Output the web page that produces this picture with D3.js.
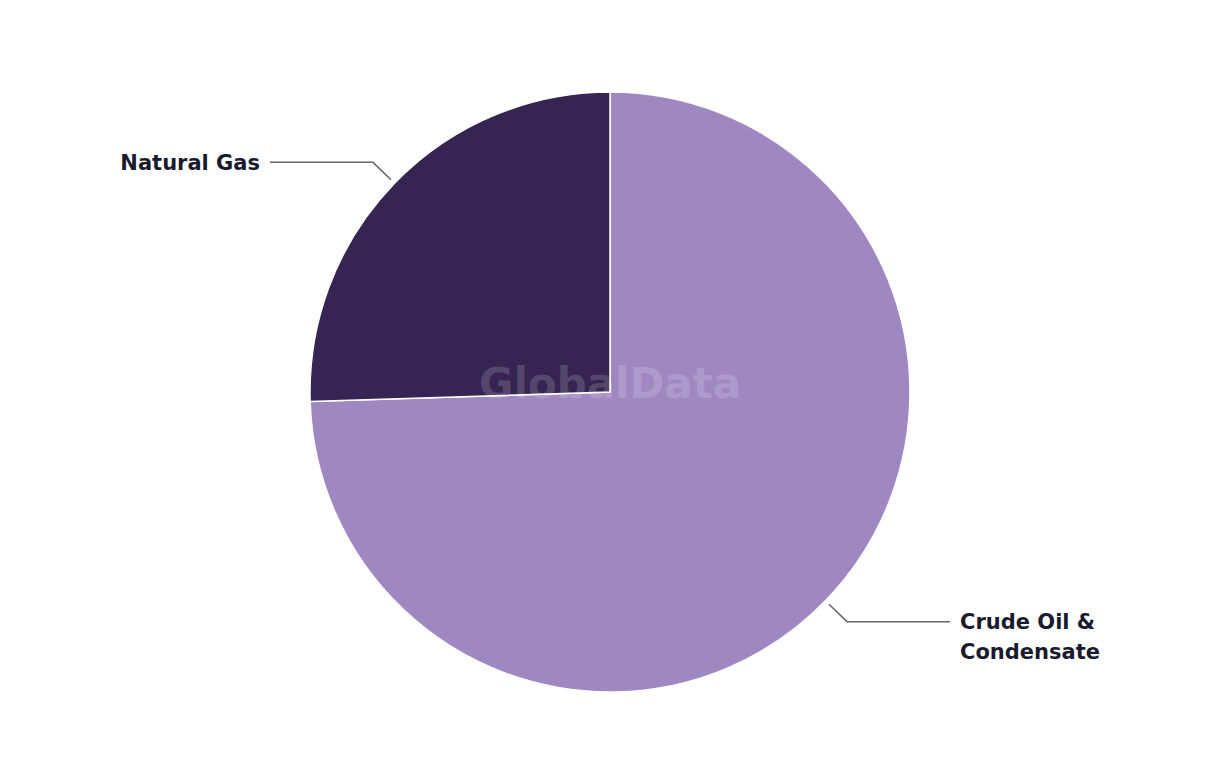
<!DOCTYPE html>
<html>
<head>
<meta charset="utf-8">
<script src="https://cdn.jsdelivr.net/npm/d3@7"></script>
<style>
  body { margin: 0; background: #fff; }
</style>
</head>
<body>
<div id="chart"></div>
<script>
// data (share of total, %)
var categories = ["Crude Oil & Condensate", "Natural Gas"];
var values = [74.5, 25.5];
var colors = ["#9f88c1", "#362453"];
var labelLines = [["Crude Oil &", "Condensate"], ["Natural Gas"]];

var width = 1220, height = 764;
var cx = 610, cy = 392, radius = 300;

var data = categories.map(function(c, i) { return { name: c, value: values[i], color: colors[i], lines: labelLines[i] }; });

var svg = d3.select("#chart").append("svg")
    .attr("width", width)
    .attr("height", height);

var g = svg.append("g").attr("transform", "translate(" + cx + "," + cy + ")");

var pie = d3.pie().value(function(d) { return d.value; });
var arcs = pie(data);

var arc = d3.arc().innerRadius(0).outerRadius(radius);

g.selectAll("path.slice")
    .data(arcs)
    .enter()
    .append("path")
        .attr("class", "slice")
        .attr("d", arc)
        .style("fill", function(d) { return d.data.color; })
        .style("stroke", "#fff")
        .style("stroke-width", 1.5);

// watermark
g.append("text")
    .attr("x", 0)
    .attr("y", -9)
    .attr("text-anchor", "middle")
    .attr("dy", ".35em")
    .attr("font-family", "'DejaVu Sans', sans-serif")
    .attr("font-weight", 700)
    .attr("font-size", 42)
    .style("fill", "#fff")
    .style("fill-opacity", 0.16)
    .text("GlobalData");

// leader lines
var inner = d3.arc().innerRadius(305).outerRadius(305);
var outer = d3.arc().innerRadius(330).outerRadius(330);
var lineEnd = 103; // horizontal run length

arcs.forEach(function(d) {
    var p1 = inner.centroid(d), p2 = outer.centroid(d);
    var side = p2[0] > 0 ? 1 : -1;
    var p3 = [p2[0] + side * lineEnd, p2[1]];
    g.append("polyline")
        .attr("points", [p1, p2, p3].map(function(p) { return p.join(","); }).join(" "))
        .style("fill", "none")
        .style("stroke", "#666")
        .style("stroke-width", 1.5);

    var t = g.append("text")
        .attr("x", p3[0] + side * 10)
        .attr("y", p3[1])
        .attr("text-anchor", side > 0 ? "start" : "end")
        .attr("font-family", "'DejaVu Sans', sans-serif")
        .attr("font-weight", 700)
        .attr("font-size", 21)
        .style("fill", "#1a1a2e");
    d.data.lines.forEach(function(l, i) {
        t.append("tspan")
            .attr("x", p3[0] + side * 10)
            .attr("dy", i === 0 ? ".35em" : "1.43em")
            .text(l);
    });
});
</script>
</body>
</html>
